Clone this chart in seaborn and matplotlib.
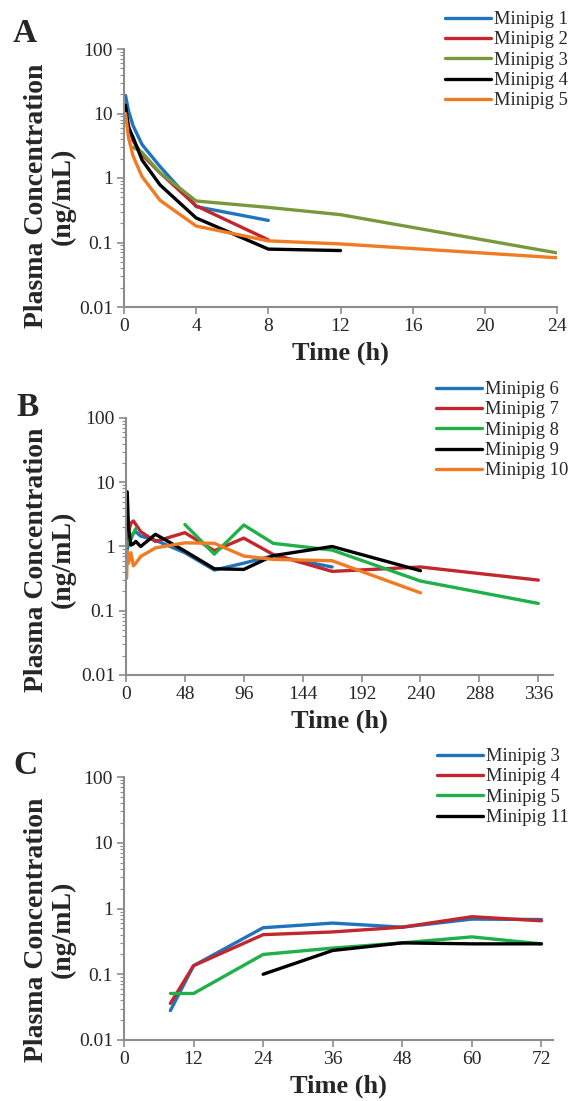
import numpy as np
import pandas as pd
import matplotlib
matplotlib.use("Agg")
import matplotlib.pyplot as plt
import seaborn as sns
from matplotlib.ticker import LogLocator, FixedLocator, FuncFormatter, NullFormatter

sns.set_style("white")
plt.rcParams['font.family'] = ['Liberation Serif', 'DejaVu Serif']

# panel A: single dose, 0-24 h
a_names = ['Minipig 1', 'Minipig 2', 'Minipig 3', 'Minipig 4', 'Minipig 5']
a_time = [0.083, 0.25, 0.5, 1, 2, 4, 8, 12, 24]
a_conc = {
    'Minipig 1': [19, 11, 6.5, 3.3, 1.5, 0.36, 0.22, np.nan, np.nan],
    'Minipig 2': [10, 6.5, 3.8, 2.3, 1.2, 0.37, 0.11, np.nan, np.nan],
    'Minipig 3': [np.nan, np.nan, 3.0, 2.5, 1.2, 0.44, 0.35, 0.27, 0.069],
    'Minipig 4': [13.5, 6.0, 4.3, 1.9, 0.78, 0.24, 0.079, 0.075, np.nan],
    'Minipig 5': [10, 4.2, 2.2, 1.05, 0.45, 0.18, 0.106, 0.095, 0.058],
}
a_colors = ['#1f74bd', '#c1272d', '#77993c', '#000000', '#f07b22']

# panel B: 0-336 h
b_names = ['Minipig 6', 'Minipig 7', 'Minipig 8', 'Minipig 9', 'Minipig 10']
b_time = [0.5, 1, 2, 4, 6, 8, 12, 24, 48, 72, 96, 120, 168, 240, 336]
b_conc = {
    'Minipig 6': [0.8, 0.9, 1.1, 1.3, 1.6, 1.7, 1.45, 1.25, 0.8, 0.43, 0.55, 0.72, 0.48, np.nan, np.nan],
    'Minipig 7': [1.0, 1.2, 1.7, 2.3, 2.5, 2.2, 1.7, 1.2, 1.64, 0.86, 1.35, 0.75, 0.41, 0.48, 0.30],
    'Minipig 8': [1.0, 1.2, 1.2, 1.4, 1.6, 1.9, np.nan, np.nan, 2.2, 0.76, 2.16, 1.12, 0.88, 0.29, 0.13],
    'Minipig 9': [np.nan, 7.1, 2.0, 1.05, 1.1, 1.2, 1.0, 1.55, 0.85, 0.45, 0.44, 0.72, 1.0, 0.42, np.nan],
    'Minipig 10': [0.32, 0.85, 0.55, 0.8, 0.5, 0.55, 0.7, 0.95, 1.14, 1.12, 0.71, 0.63, 0.6, 0.19, np.nan],
}
b_colors = ['#1f74bd', '#c1272d', '#1fb04a', '#000000', '#f07b22']

# panel C: 0-72 h
c_names = ['Minipig 3', 'Minipig 4', 'Minipig 5', 'Minipig 11']
c_time = [8, 12, 24, 36, 48, 60, 72]
c_conc = {
    'Minipig 3': [0.028, 0.135, 0.51, 0.60, 0.52, 0.69, 0.68],
    'Minipig 4': [0.036, 0.135, 0.40, 0.44, 0.52, 0.75, 0.65],
    'Minipig 5': [0.051, 0.051, 0.20, 0.25, 0.30, 0.37, 0.29],
    'Minipig 11': [np.nan, np.nan, 0.10, 0.23, 0.30, 0.29, 0.29],
}
c_colors = ['#1f74bd', '#c1272d', '#1fb04a', '#000000']


def long_form(names, times, conc):
    # split a series into segments wherever values are missing
    rows = []
    for n in names:
        seg = 0
        prev_nan = False
        started = False
        for t, v in zip(times, conc[n]):
            if np.isnan(v):
                prev_nan = True
                continue
            if started and prev_nan:
                seg += 1
            rows.append((n, t, v, seg))
            started = True
            prev_nan = False
    return pd.DataFrame(rows, columns=['pig', 'time', 'conc', 'seg'])


W, H = 570, 1101
fig = plt.figure(figsize=(W / 100, H / 100), dpi=100)

panels = [
    # letter, names, times, conc, colors, axes box (l, r, top, bottom px), xticks, xmax,
    # legend (x, top px), letter pos, ylabel centre (axes frac)
    ('A', a_names, a_time, a_conc, a_colors, (124, 557, 49, 307), np.arange(0, 25, 4), 24, (445, 11), (13, 49), 0.43),
    ('B', b_names, b_time, b_conc, b_colors, (126, 553, 418, 675), np.arange(0, 337, 48), 348, (436, 381), (16, 423), 0.45),
    ('C', c_names, c_time, c_conc, c_colors, (124, 553, 777, 1040), np.arange(0, 73, 12), 74, (437, 748), (13, 781), 0.42),
]

grey = '#8c8c8c'
for letter, names, times, conc, colors, box, xt, xmax, leg, lpos, ylc in panels:
    l, r, t, b = box
    ax = fig.add_axes([l / W, 1 - b / H, (r - l) / W, (b - t) / H])
    df = long_form(names, times, conc)
    sns.lineplot(data=df, x='time', y='conc', hue='pig', units='seg', estimator=None,
                 hue_order=names, palette=colors, linewidth=2.4, ax=ax, legend=True)
    ax.set_yscale('log')
    ax.set_ylim(0.01, 100)
    ax.set_xlim(0, xmax)
    ax.xaxis.set_major_locator(FixedLocator(xt))
    ax.yaxis.set_major_locator(FixedLocator([0.01, 0.1, 1, 10, 100]))
    ax.yaxis.set_minor_locator(LogLocator(base=10, subs=np.arange(2, 10)))
    ax.yaxis.set_minor_formatter(NullFormatter())
    ax.yaxis.set_major_formatter(FuncFormatter(lambda v, p: f'{v:g}'))
    for s in ['top', 'right']:
        ax.spines[s].set_visible(False)
    for s in ['left', 'bottom']:
        ax.spines[s].set_color(grey)
        ax.spines[s].set_linewidth(1.5)
    ax.tick_params(axis='both', which='major', direction='out', length=5, width=1.2,
                   color=grey, labelsize=14, pad=3, left=True, bottom=True)
    ax.tick_params(axis='y', which='minor', direction='out', length=3, width=0.8,
                   color=grey, left=True)
    ax.set_xlabel('Time (h)', fontsize=19, fontweight='bold', labelpad=5)
    ax.set_ylabel('Plasma Concentration\n(ng/mL)', fontsize=20, fontweight='bold',
                  linespacing=1.1)
    # right edge of the rotated label sits ~75 px from the figure edge
    ax.yaxis.set_label_coords((76 - l) / (r - l), ylc)
    handles, labels = ax.get_legend_handles_labels()
    ax.legend(handles, labels, loc='upper left',
              bbox_to_anchor=(leg[0] / W, 1 - leg[1] / H), bbox_transform=fig.transFigure,
              frameon=False, fontsize=13.3, handlelength=2.5, handletextpad=0.15,
              labelspacing=0.18, borderaxespad=0, borderpad=0)
    fig.text(lpos[0] / W, 1 - lpos[1] / H, letter, fontsize=24, fontweight='bold',
             ha='left', va='bottom')

fig.savefig('out.png', dpi=100)
